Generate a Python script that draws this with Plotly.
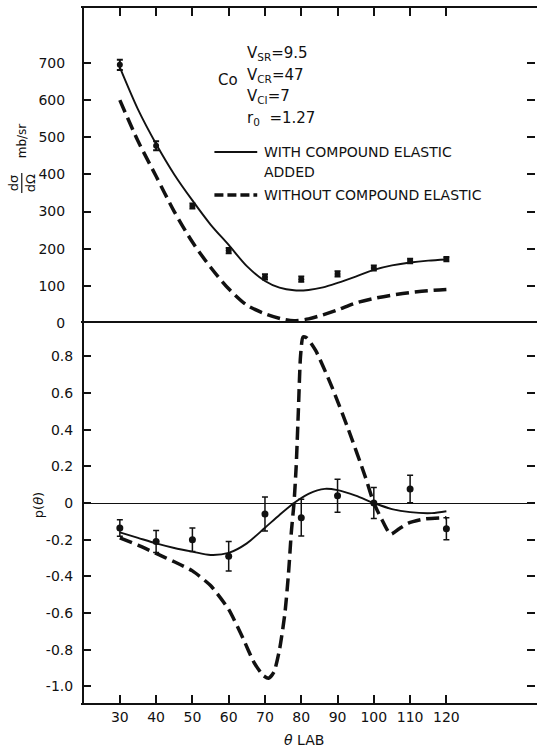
import plotly.graph_objects as go

# ---------------- data ----------------
theta_pts = [30, 40, 50, 60, 70, 80, 90, 100, 110, 120]

# top panel: differential cross section (mb/sr)
xsec_meas = [695, 477, 315, 195, 124, 118, 132, 148, 167, 172]
xsec_err = [14, 12, 7, 7, 7, 7, 7, 7, 6, 6]

theta_xsec_with = [30, 35, 40, 45, 50, 55, 60, 65, 70, 74, 78, 82, 86, 90, 95, 100, 105, 110, 115, 120]
xsec_with = [688, 575, 482, 400, 330, 265, 210, 153, 113, 95, 88, 89, 96, 108, 125, 143, 155, 163, 168, 171]

theta_xsec_without = [30, 35, 40, 45, 50, 55, 60, 65, 70, 75, 78, 82, 86, 90, 95, 100, 105, 110, 115, 120]
xsec_without = [600, 490, 395, 300, 218, 150, 92, 48, 25, 10, 6, 11, 22, 35, 54, 66, 75, 82, 87, 90]

# bottom panel: polarization p(theta)
pol_meas = [-0.136, -0.21, -0.20, -0.29, -0.06, -0.08, 0.04, 0.0, 0.076, -0.14]
pol_err = [0.045, 0.06, 0.064, 0.08, 0.093, 0.10, 0.09, 0.085, 0.075, 0.06]

theta_pol_with = [30, 35, 40, 45, 50, 55, 60, 65, 70, 74, 78, 82, 86.5, 90, 95, 100, 105, 110, 116, 120]
pol_with = [-0.16, -0.19, -0.22, -0.245, -0.265, -0.283, -0.272, -0.22, -0.135, -0.065, 0.0, 0.05, 0.077,
            0.07, 0.04, 0.0, -0.033, -0.05, -0.055, -0.045]

theta_pol_without = [30, 35, 40, 45, 50, 55, 60, 64, 67, 69.5, 71, 72.5, 74, 75.5, 76.5, 77.3, 78, 78.6,
                     79.2, 79.8, 80.5, 81.5, 84, 88.5, 93, 97.7, 100, 102.2, 104.6, 107, 109.5, 114, 120]
pol_without = [-0.19, -0.23, -0.275, -0.32, -0.37, -0.45, -0.58, -0.74, -0.87, -0.94, -0.955, -0.92, -0.80,
               -0.60, -0.38, -0.15, 0.0, 0.2, 0.5, 0.8, 0.905, 0.90, 0.83, 0.63, 0.40, 0.14, 0.0, -0.09,
               -0.17, -0.14, -0.11, -0.087, -0.08]

x_ticks = [30, 40, 50, 60, 70, 80, 90, 100, 110, 120]
x_ticktext = ["30", "40", "50", "60", "70", "80", "90", "100", "110", "120"]
top_y_ticks = [0, 100, 200, 300, 400, 500, 600, 700]
bot_y_ticks = [-1.0, -0.8, -0.6, -0.4, -0.2, 0, 0.2, 0.4, 0.6, 0.8]
bot_y_ticktext = ["-1.0", "-0.8", "-0.6", "-0.4", "-0.2", "0", "0.2", "0.4", "0.6", "0.8"]

# ---------------- layout geometry ----------------
W, H = 537, 747
L, R, T, B = 83, 0, 8, 44
PX0, PX1, PY0, PY1 = L, W - R, T, H - B
SPLIT = 323  # pixel row of panel split
split_frac = (PY1 - SPLIT) / (PY1 - PY0)


def px(x):
    return (x - PX0) / (PX1 - PX0)


def py(y):
    return (PY1 - y) / (PY1 - PY0)


FONT = "DejaVu Sans"
BLACK = "#111111"
CLEAR = "rgba(0,0,0,0)"

fig = go.Figure()

# top panel
fig.add_trace(go.Scatter(x=theta_xsec_with, y=xsec_with, mode="lines",
                         line=dict(color=BLACK, width=1.9, shape="spline", smoothing=0.8),
                         xaxis="x", yaxis="y", showlegend=False, hoverinfo="skip"))
fig.add_trace(go.Scatter(x=theta_xsec_without, y=xsec_without, mode="lines",
                         line=dict(color=BLACK, width=3.5, dash="13px,6px", shape="spline", smoothing=0.8),
                         xaxis="x", yaxis="y", showlegend=False, hoverinfo="skip"))
fig.add_trace(go.Scatter(x=theta_pts, y=xsec_meas, mode="markers", marker=dict(color=BLACK, size=6, symbol="circle"),
                         error_y=dict(type="data", array=xsec_err, color=BLACK, thickness=2, width=3),
                         xaxis="x", yaxis="y", showlegend=False))

# bottom panel
fig.add_trace(go.Scatter(x=theta_pol_with, y=pol_with, mode="lines",
                         line=dict(color=BLACK, width=1.9, shape="spline", smoothing=0.8),
                         xaxis="x2", yaxis="y2", showlegend=False, hoverinfo="skip"))
fig.add_trace(go.Scatter(x=theta_pol_without, y=pol_without, mode="lines",
                         line=dict(color=BLACK, width=3.5, dash="13px,6px", shape="spline", smoothing=0.6),
                         xaxis="x2", yaxis="y2", showlegend=False, hoverinfo="skip"))
fig.add_trace(go.Scatter(x=theta_pts, y=pol_meas, mode="markers", marker=dict(color=BLACK, size=7, symbol="circle"),
                         error_y=dict(type="data", array=pol_err, color=BLACK, thickness=1.5, width=3),
                         xaxis="x2", yaxis="y2", showlegend=False))

xr = [30 - (120 - PX0) / 3.6444, 120 + (PX1 - 448) / 3.6444]
axis_common = dict(showgrid=False, linecolor=BLACK, tickcolor=BLACK, ticks="inside", ticklen=8, tickwidth=1.5,
                   tickfont=dict(family=FONT, size=14, color=BLACK))

fig.update_layout(
    width=W, height=H,
    margin=dict(l=L, r=R, t=T, b=B, pad=0),
    paper_bgcolor="white", plot_bgcolor="white",
    xaxis=dict(axis_common, domain=[0, 1], range=xr, anchor="y", side="top", showline=True, linewidth=2,
               tickvals=x_ticks, showticklabels=False, zeroline=False),
    xaxis2=dict(axis_common, domain=[0, 1], range=xr, anchor="y2", side="bottom", showline=True, linewidth=2,
                mirror=True, tickvals=x_ticks, ticktext=x_ticktext, zeroline=False),
    # y-axis lines are transparent so the mirrored right-hand ticks appear without a right frame line;
    # the left frame line is drawn as a layout shape below
    yaxis=dict(axis_common, domain=[split_frac, 1], range=[0, 848], anchor="x", showline=True, linewidth=2,
               linecolor=CLEAR, mirror="ticks", tickvals=top_y_ticks, zeroline=False, ticklabelstandoff=13),
    yaxis2=dict(axis_common, domain=[0, split_frac], range=[-1.09, 0.981], anchor="x2", showline=True, linewidth=2,
                linecolor=CLEAR, mirror="ticks", tickvals=bot_y_ticks, ticktext=bot_y_ticktext, zeroline=True,
                zerolinecolor=BLACK, zerolinewidth=1.3, ticklabelstandoff=5),
)

ann = []


def text(x, y, s, size=14, xanchor="left", angle=0):
    ann.append(dict(x=px(x), y=py(y), xref="paper", yref="paper", text=s, showarrow=False,
                    xanchor=xanchor, yanchor="middle", textangle=angle,
                    font=dict(family=FONT, size=size, color=BLACK)))


text(217, 80, "Co", size=15)
text(246, 53, "V<sub>SR</sub>=9.5", size=15)
text(246, 75, "V<sub>CR</sub>=47", size=15)
text(246, 97, "V<sub>CI</sub>=7", size=15)
text(246, 118, "r<sub>0</sub>  =1.27", size=15)
text(263, 152, "WITH COMPOUND ELASTIC")
text(263, 172, "ADDED")
text(263, 195, "WITHOUT COMPOUND ELASTIC")
text(305, 740, "<i>θ</i> LAB", xanchor="center")
text(38, 505, "p(<i>θ</i>)", size=13, xanchor="center", angle=-90)
text(22, 141, "mb/sr", size=12, xanchor="center", angle=-90)
text(13, 183, "dσ", size=13, xanchor="center", angle=-90)
text(30, 183, "dΩ", size=13, xanchor="center", angle=-90)

fig.update_layout(annotations=ann)

shapes = [
    # left frame line
    dict(type="line", xref="paper", yref="paper", x0=0, x1=0, y0=0, y1=1, line=dict(color=BLACK, width=2)),
    # legend line samples
    dict(type="line", xref="paper", yref="paper", x0=px(215), x1=px(258), y0=py(152), y1=py(152),
         line=dict(color=BLACK, width=1.9)),
    dict(type="line", xref="paper", yref="paper", x0=px(215), x1=px(258), y0=py(195), y1=py(195),
         line=dict(color=BLACK, width=3.5, dash="9px,4px")),
    # fraction bar of the y-axis label
    dict(type="line", xref="paper", yref="paper", x0=px(21.5), x1=px(21.5), y0=py(173), y1=py(193),
         line=dict(color=BLACK, width=1.2)),
]
fig.update_layout(shapes=shapes)

fig.write_html("out.html")
